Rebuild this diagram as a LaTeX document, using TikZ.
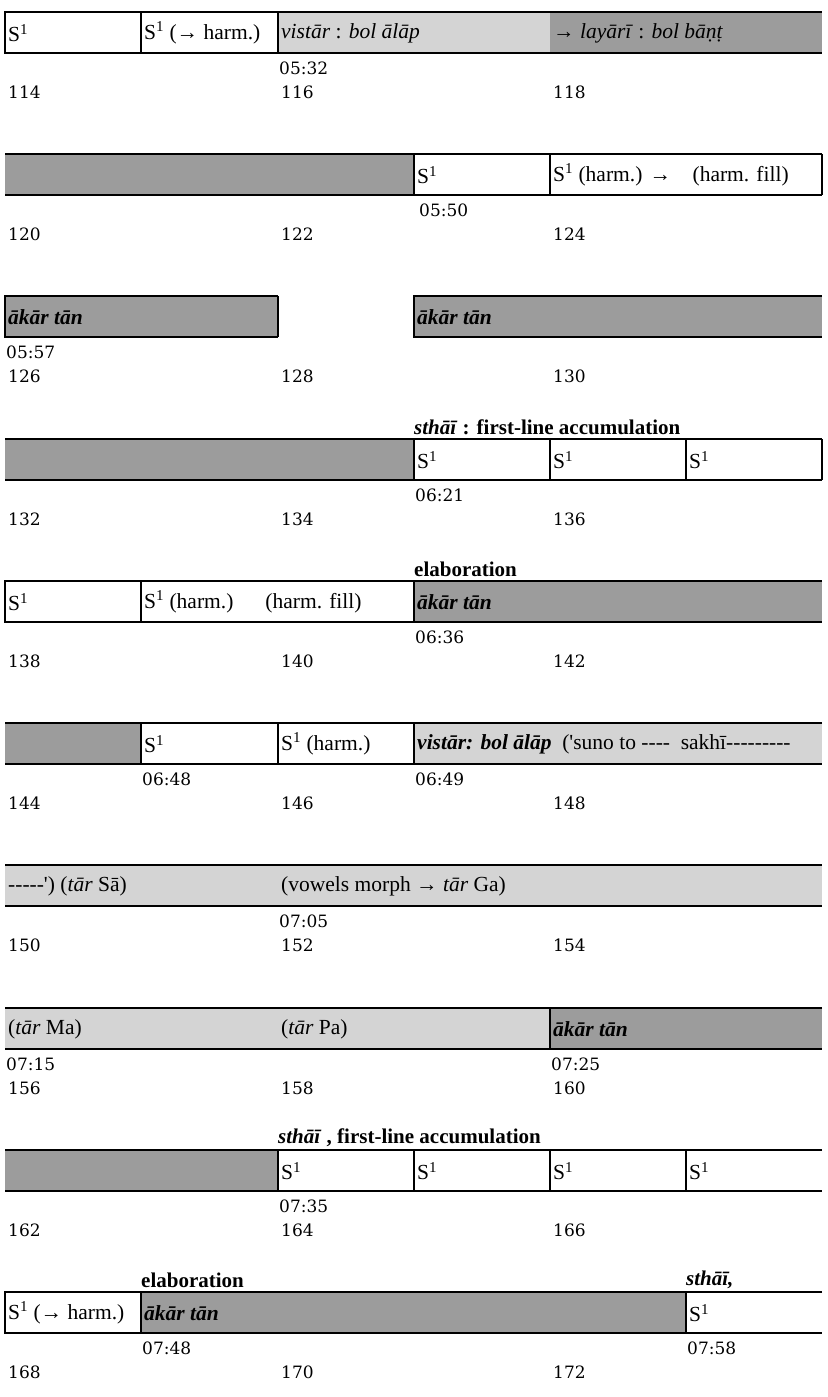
\documentclass[tikz,border=0pt]{standalone}
\usepackage{fontspec}
\setmainfont{Liberation Serif}[Ligatures=TeXOff]
\newfontfamily\numfont{DejaVu Serif}
\definecolor{lgr}{HTML}{D4D4D4}
\definecolor{dgr}{HTML}{9C9C9C}
\tikzset{
 bar/.style={line width=1.8pt},
 celltext/.style={anchor=west,inner sep=0pt,font=\fontsize{21.5}{24}\selectfont},
 lab/.style={anchor=west,inner sep=0pt,font=\numfont\fontsize{17}{19}\selectfont},
 over/.style={anchor=west,inner sep=0pt,font=\bfseries\fontsize{21}{24}\selectfont},
}
\newcommand\seg[6]{%
 \fill[#1] (#2,#4) rectangle (#3,#4+41);
 \draw[bar] (#3,#4) -- (#2,#4) -- (#2,#4+41) -- (#3,#4+41);
 \node[celltext] (#5) at (#2+3,#4+21) {#6};}
\newcommand\nosideseg[6]{%
 \fill[#1] (#2,#4) rectangle (#3,#4+41);
 \draw[bar] (#2,#4) -- (#3,#4) (#2,#4+41) -- (#3,#4+41);
 \node[celltext] (#5) at (#2+3,#4+21) {#6};}
\newcommand\tm[3]{\node[lab] (#1) at (#2+1,#3+56) {#1};}
\newcommand\nm[3]{\node[lab] (n#1) at (#2+3,#3+80) {#1};}
\newcommand\Sone{S\textsuperscript{1}}
\begin{document}
\begin{tikzpicture}[x=1pt,y=-1pt]
\useasboundingbox (0,0) rectangle (827,1397);
% row 1
\def\ry{12}
\seg{white}{5}{141}{\ry}{a1}{\Sone}
\seg{white}{141}{278}{\ry}{a2}{\Sone\ (→ harm.)}
\seg{lgr}{278}{550}{\ry}{a3}{\textit{vistār} : \textit{bol ālāp}}
\nosideseg{dgr}{550}{822}{\ry}{a4}{→ \textit{layārī} : \textit{bol bāṇṭ}}
\tm{05:32}{278}{\ry}
\nm{114}{5}{\ry}\nm{116}{278}{\ry}\nm{118}{550}{\ry}
% row 2
\def\ry{154}
\nosideseg{dgr}{5}{414}{\ry}{b1}{}
\seg{white}{414}{550}{\ry}{b2}{\Sone}
\seg{white}{550}{822}{\ry}{b3}{\Sone\ (harm.) →\quad (harm. fill)}
\draw[bar] (822,\ry) -- (822,\ry+41);
\node[lab] (05:50) at (419,\ry+56) {05:50};
\nm{120}{5}{\ry}\nm{122}{278}{\ry}\nm{124}{550}{\ry}
% row 3
\def\ry{296}
\seg{dgr}{5}{278}{\ry}{c1}{\textbf{\textit{ākār tān}}}
\draw[bar] (278,\ry) -- (278,\ry+41);
\seg{dgr}{414}{822}{\ry}{c2}{\textbf{\textit{ākār tān}}}
\tm{05:57}{5}{\ry}
\nm{126}{5}{\ry}\nm{128}{278}{\ry}\nm{130}{550}{\ry}
% row 4
\def\ry{439}
\node[over] (o4) at (414,\ry-12) {\textit{sthāī} : first-line accumulation};
\nosideseg{dgr}{5}{414}{\ry}{d1}{}
\seg{white}{414}{550}{\ry}{d2}{\Sone}
\seg{white}{550}{686}{\ry}{d3}{\Sone}
\seg{white}{686}{822}{\ry}{d4}{\Sone}
\draw[bar] (822,\ry) -- (822,\ry+41);
\tm{06:21}{414}{\ry}
\nm{132}{5}{\ry}\nm{134}{278}{\ry}\nm{136}{550}{\ry}
% row 5
\def\ry{581}
\node[over] (o5) at (414,\ry-12) {elaboration};
\seg{white}{5}{141}{\ry}{e1}{\Sone}
\seg{white}{141}{414}{\ry}{e2}{\Sone\ (harm.)\hspace{32pt}(harm. fill)}
\seg{dgr}{414}{822}{\ry}{e3}{\textbf{\textit{ākār tān}}}
\tm{06:36}{414}{\ry}
\nm{138}{5}{\ry}\nm{140}{278}{\ry}\nm{142}{550}{\ry}
% row 6
\def\ry{723}
\nosideseg{dgr}{5}{141}{\ry}{f1}{}
\seg{white}{141}{278}{\ry}{f2}{\Sone}
\seg{white}{278}{414}{\ry}{f3}{\Sone\ (harm.)}
\seg{lgr}{414}{822}{\ry}{f4}{\textbf{\textit{vistār: bol ālāp}}\ \ ('suno to ----\ \ sakhī---------}
\tm{06:48}{141}{\ry}\tm{06:49}{414}{\ry}
\nm{144}{5}{\ry}\nm{146}{278}{\ry}\nm{148}{550}{\ry}
% row 7
\def\ry{865}
\nosideseg{lgr}{5}{278}{\ry}{g1}{-----') (\textit{tār}\ Sā)}
\nosideseg{lgr}{278}{822}{\ry}{g2}{(vowels morph → \textit{tār}\ Ga)}
\tm{07:05}{278}{\ry}
\nm{150}{5}{\ry}\nm{152}{278}{\ry}\nm{154}{550}{\ry}
% row 8
\def\ry{1008}
\nosideseg{lgr}{5}{278}{\ry}{h1}{(\textit{tār}\ Ma)}
\nosideseg{lgr}{278}{550}{\ry}{h2}{(\textit{tār}\ Pa)}
\seg{dgr}{550}{822}{\ry}{h3}{\textbf{\textit{ākār tān}}}
\tm{07:15}{5}{\ry}\tm{07:25}{550}{\ry}
\nm{156}{5}{\ry}\nm{158}{278}{\ry}\nm{160}{550}{\ry}
% row 9
\def\ry{1150}
\node[over] (o9) at (278,\ry-12) {\textit{sthāī} , first-line accumulation};
\nosideseg{dgr}{5}{278}{\ry}{i1}{}
\seg{white}{278}{414}{\ry}{i2}{\Sone}
\seg{white}{414}{550}{\ry}{i3}{\Sone}
\seg{white}{550}{686}{\ry}{i4}{\Sone}
\seg{white}{686}{822}{\ry}{i5}{\Sone}
\tm{07:35}{278}{\ry}
\nm{162}{5}{\ry}\nm{164}{278}{\ry}\nm{166}{550}{\ry}
% row 10
\def\ry{1292}
\node[over] (o10a) at (141,\ry-12) {elaboration};
\node[over] (o10b) at (686,\ry-12) {\textit{sthāī,}};
\seg{white}{5}{141}{\ry}{j1}{\Sone\ (→ harm.)}
\seg{dgr}{141}{686}{\ry}{j2}{\textbf{\textit{ākār tān}}}
\seg{white}{686}{822}{\ry}{j3}{\Sone}
\tm{07:48}{141}{\ry}\tm{07:58}{686}{\ry}
\nm{168}{5}{\ry}\nm{170}{278}{\ry}\nm{172}{550}{\ry}
\end{tikzpicture}
\end{document}
